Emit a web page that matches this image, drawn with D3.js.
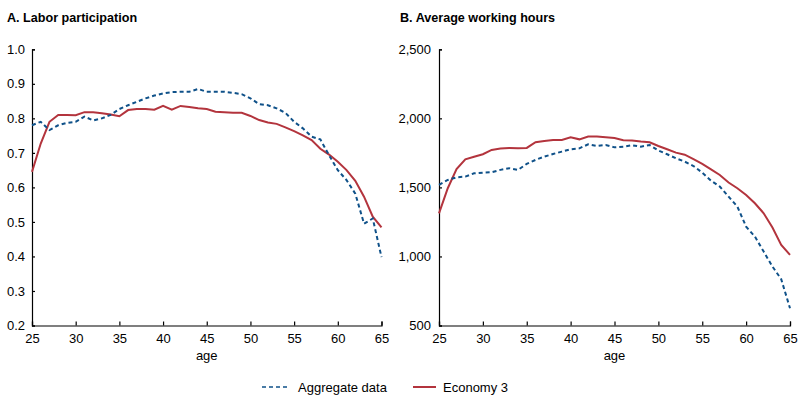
<!DOCTYPE html>
<html><head><meta charset="utf-8">
<script src="https://cdn.jsdelivr.net/npm/d3@7"></script>
<style>
body{margin:0;background:#fff;}
text{font-family:"Liberation Sans",Arial,Helvetica,sans-serif;fill:#000;}
</style></head>
<body>
<svg id="c" width="800" height="399"></svg>
<script>
const ages = d3.range(25, 66);
const partAggregate = [0.78,0.79,0.766,0.78,0.787,0.79,0.805,0.794,0.80,0.81,0.827,0.838,0.848,0.858,0.866,0.872,0.876,0.877,0.877,0.885,0.877,0.877,0.877,0.874,0.870,0.858,0.841,0.838,0.829,0.816,0.79,0.771,0.747,0.739,0.693,0.65,0.621,0.582,0.495,0.51,0.398];
const partEconomy3 = [0.645,0.727,0.79,0.81,0.81,0.809,0.818,0.818,0.815,0.811,0.806,0.824,0.827,0.827,0.825,0.836,0.825,0.836,0.833,0.829,0.827,0.819,0.818,0.816,0.816,0.807,0.795,0.788,0.784,0.774,0.763,0.751,0.737,0.712,0.695,0.674,0.650,0.619,0.573,0.515,0.484];
const hoursAggregate = [1518,1554,1573,1578,1602,1607,1610,1627,1639,1627,1670,1699,1723,1742,1759,1776,1783,1812,1800,1807,1790,1795,1805,1795,1807,1767,1740,1711,1687,1655,1607,1549,1506,1433,1361,1216,1144,1035,927,835,625];
const hoursEconomy3 = [1312,1494,1633,1703,1722,1740,1771,1781,1786,1783,1786,1827,1836,1843,1843,1863,1848,1868,1868,1863,1858,1841,1839,1832,1827,1800,1776,1752,1737,1704,1670,1631,1590,1535,1494,1445,1385,1313,1209,1084,1011];
const xTicks = [25,30,35,40,45,50,55,60,65];
const partTicks = [0.2,0.3,0.4,0.5,0.6,0.7,0.8,0.9,1.0];
const hoursTicks = [500,1000,1500,2000,2500];
const titles = ["A. Labor participation","B. Average working hours"];
const seriesNames = ["Aggregate data","Economy 3"];
const blue = "#0f5189", red = "#b3343d";

const svg = d3.select("#c");
const plotTop = 49.3, plotBottom = 325.5;

function panel(cfg){
  const g = svg.append("g");
  const x = d3.scaleLinear().domain([25,65]).range([cfg.x0, cfg.x1]);
  const y = d3.scaleLinear().domain(cfg.domain).range([plotBottom, plotTop]);
  g.append("text").attr("x", cfg.tx).attr("y", 22).attr("font-weight","bold").attr("font-size",12.6).text(cfg.title);
  const ya = g.append("g").attr("transform",`translate(${cfg.x0},0)`)
    .call(d3.axisLeft(y).tickValues(cfg.ticks).tickSize(-3).tickPadding(cfg.pad).tickFormat(cfg.fmt));
  const xa = g.append("g").attr("transform",`translate(0,${plotBottom})`)
    .call(d3.axisBottom(x).tickValues(xTicks).tickSize(-4).tickPadding(6));
  [ya,xa].forEach(a=>{
    a.select(".domain").attr("stroke","#000").attr("stroke-width",1.2);
    a.selectAll(".tick line").attr("stroke","#000").attr("stroke-width",1.2);
    a.selectAll("text").attr("font-size",13).attr("font-family","Liberation Sans, Arial, sans-serif").attr("fill","#000");
  });
  ya.selectAll(".tick text").attr("x", -cfg.pad).attr("text-anchor","end");
  xa.selectAll(".tick text").attr("y", 6).attr("dy","0.85em");
  g.append("text").attr("x",(cfg.x0+cfg.x1)/2).attr("y",360).attr("text-anchor","middle").attr("font-size",13).text("age");
  const line = d3.line().x((d,i)=>x(ages[i])).y(d=>y(d));
  g.append("path").datum(cfg.econ).attr("d",line).attr("fill","none").attr("stroke",red).attr("stroke-width",2);
  g.append("path").datum(cfg.agg).attr("d",line).attr("fill","none").attr("stroke",blue).attr("stroke-width",2).attr("stroke-dasharray","4,3");
}

panel({x0:32,x1:381.5,domain:[0.2,1.0],ticks:partTicks,fmt:d3.format(".1f"),title:titles[0],tx:7,pad:7,agg:partAggregate,econ:partEconomy3});
panel({x0:439,x1:790,domain:[500,2500],ticks:hoursTicks,fmt:d3.format(","),title:titles[1],tx:400,pad:8,agg:hoursAggregate,econ:hoursEconomy3});

const leg = svg.append("g");
leg.append("line").attr("x1",262).attr("x2",287).attr("y1",387).attr("y2",387).attr("stroke",blue).attr("stroke-width",1.5).attr("stroke-dasharray","4,3");
leg.append("text").attr("x",298).attr("y",391.5).attr("font-size",13).text(seriesNames[0]);
leg.append("line").attr("x1",413).attr("x2",436).attr("y1",387).attr("y2",387).attr("stroke",red).attr("stroke-width",2);
leg.append("text").attr("x",443).attr("y",391.5).attr("font-size",13).text(seriesNames[1]);
</script>
</body></html>
